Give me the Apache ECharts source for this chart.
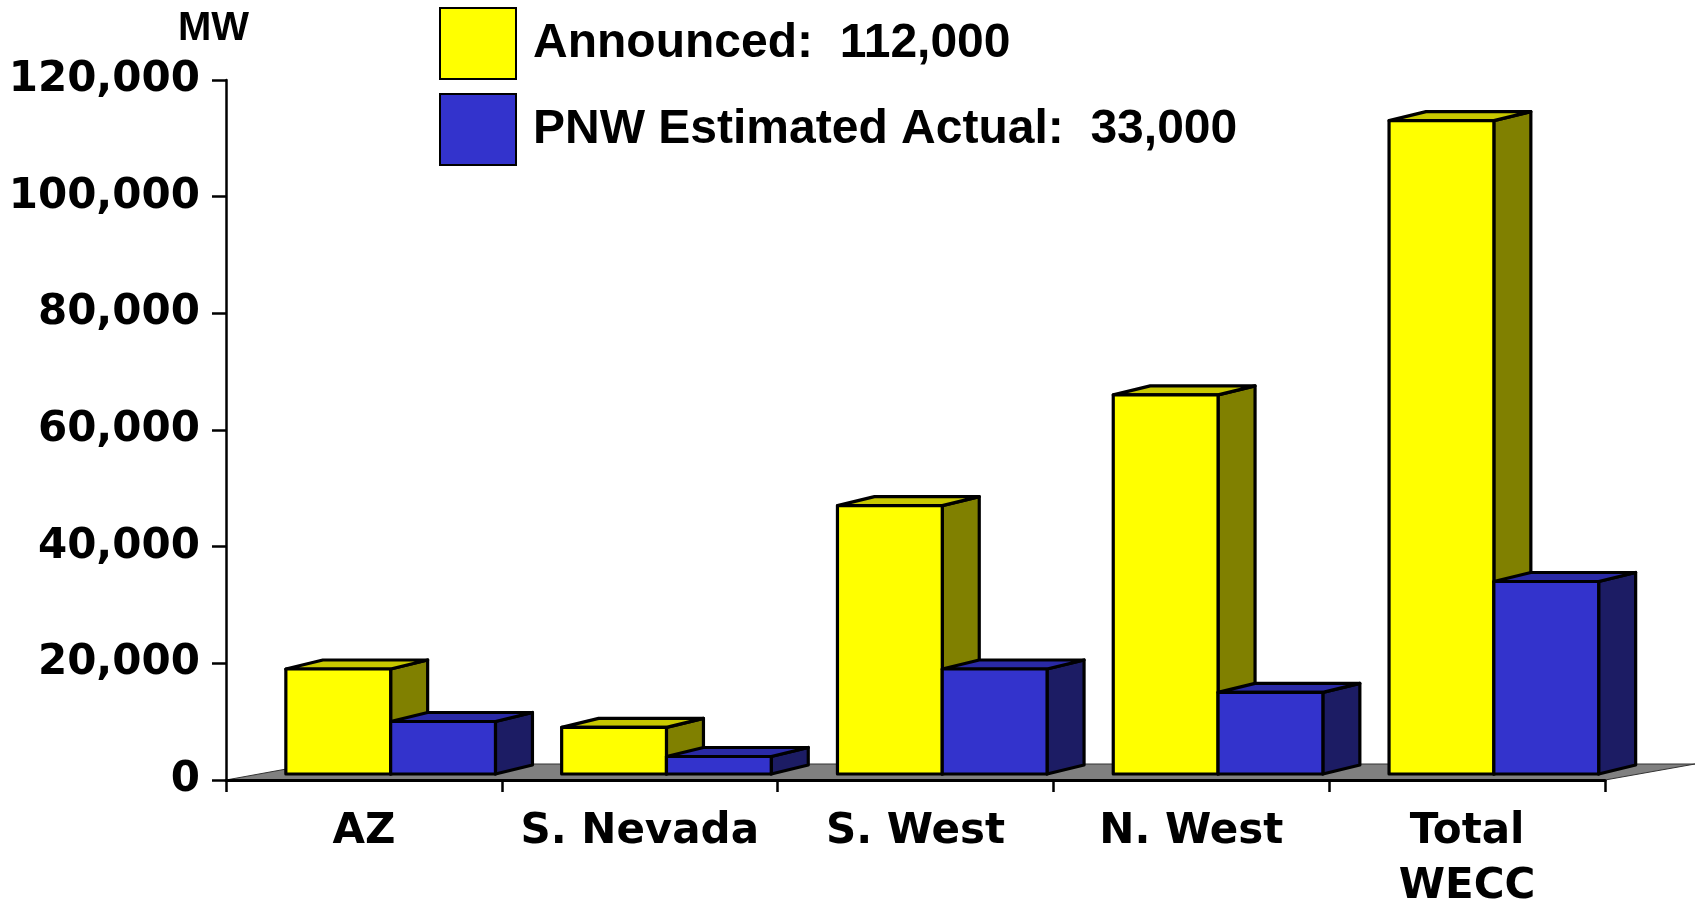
<!DOCTYPE html>
<html><head><meta charset="utf-8">
<script src="https://cdn.jsdelivr.net/npm/echarts@6/dist/echarts.min.js"></script>
<style>html,body{margin:0;padding:0;background:#fff}#c{width:1696px;height:901px}</style>
</head><body><div id="c"></div>
<script>
const categories = ['AZ', 'S. Nevada', 'S. West', 'N. West', 'Total\nWECC'];
const announced = [18000, 8000, 46000, 65000, 112000];
const pnwActual = [9000, 3000, 18000, 14000, 33000];
const seriesNames = ['Announced:  112,000', 'PNW Estimated Actual:  33,000'];
const yMin = 0, yMax = 120000, yInterval = 20000;
const unitLabel = 'MW';

const COLORS = [
  { front: '#FFFF00', top: '#C8C800', side: '#808000' },
  { front: '#3333CC', top: '#2A2AA6', side: '#1C1C64' }
];

function makeRender(which) {
  return function (params, api) {
    const ci = api.value(0), v = api.value(1);
    const b = api.coord([ci, 0]);
    const t = api.coord([ci, v]);
    const band = api.size([1, 0])[0];
    const bw = band * 0.38;
    const fx = band * 0.097, fy = -6;
    const dx = 37, dy = -9;
    const x0 = which === 0 ? b[0] + fx - bw : b[0] + fx;
    const x1 = x0 + bw;
    const yb = b[1] + fy, yt = t[1] + fy;
    const c = COLORS[which];
    const ls = { stroke: '#000', lineWidth: 3.2, lineJoin: 'round' };
    return {
      type: 'group', children: [
        { type: 'polygon', shape: { points: [[x1, yb], [x1, yt], [x1 + dx, yt + dy], [x1 + dx, yb + dy]] }, style: Object.assign({ fill: c.side }, ls) },
        { type: 'polygon', shape: { points: [[x0, yt], [x1, yt], [x1 + dx, yt + dy], [x0 + dx, yt + dy]] }, style: Object.assign({ fill: c.top }, ls) },
        { type: 'rect', shape: { x: x0, y: yt, width: bw, height: yb - yt }, style: Object.assign({ fill: c.front }, ls) }
      ]
    };
  };
}

function renderFloor(params, api) {
  const cs = params.coordSys;
  const y = api.coord([0, 0])[1];
  const x = cs.x, w = cs.width;
  return {
    type: 'polygon',
    shape: { points: [[x, y], [x + w, y], [x + w + 90, y - 16], [x + 88, y - 16]] },
    style: { fill: '#808080', stroke: '#333', lineWidth: 1 }
  };
}

const chart = echarts.init(document.getElementById('c'), null, { renderer: 'canvas' });
const labelFont = { fontFamily: 'DejaVu Sans', fontWeight: 'bold', fontSize: 42, color: '#000' };
chart.setOption({
  animation: false,
  backgroundColor: '#fff',
  title: {
    text: unitLabel, left: 178, top: 9, padding: 0,
    textStyle: { fontFamily: 'Liberation Sans', fontWeight: 'bold', fontSize: 40, color: '#000' }
  },
  legend: {
    orient: 'vertical', left: 439, top: 7, padding: 0,
    itemWidth: 76, itemHeight: 71, itemGap: 13,
    selectedMode: false,
    textStyle: { fontFamily: 'Liberation Sans', fontWeight: 'bold', fontSize: 48, color: '#000', padding: [3, 0, 0, 12] },
    data: [
      { name: seriesNames[0], icon: 'rect', itemStyle: { color: COLORS[0].front, borderColor: '#000', borderWidth: 2 } },
      { name: seriesNames[1], icon: 'rect', itemStyle: { color: COLORS[1].front, borderColor: '#000', borderWidth: 2 } }
    ]
  },
  grid: { left: 226, right: 91, top: 80, bottom: 121, containLabel: false, outerBoundsMode: 'none' },
  xAxis: {
    type: 'category', data: categories, boundaryGap: true, z: 10,
    axisLine: { lineStyle: { color: '#000', width: 3 } },
    axisTick: { show: true, alignWithLabel: false, length: 12, lineStyle: { color: '#000', width: 2.5 } },
    axisLabel: Object.assign({ margin: 25, lineHeight: 55, interval: 0 }, labelFont)
  },
  yAxis: {
    type: 'value', min: yMin, max: yMax, interval: yInterval, z: 10,
    splitLine: { show: false },
    axisLine: { show: true, lineStyle: { color: '#000', width: 2.5 } },
    axisTick: { show: true, length: 14, lineStyle: { color: '#000', width: 2.5 } },
    axisLabel: Object.assign({ margin: 26, formatter: v => v.toLocaleString('en-US') }, labelFont)
  },
  series: [
    { name: 'floor', type: 'custom', renderItem: renderFloor, data: [[0, 0]], silent: true, z: 1 },
    {
      name: seriesNames[0], type: 'custom', renderItem: makeRender(0), z: 2,
      itemStyle: { color: COLORS[0].front },
      encode: { x: 0, y: 1 },
      data: announced.map((v, i) => [i, v])
    },
    {
      name: seriesNames[1], type: 'custom', renderItem: makeRender(1), z: 3,
      itemStyle: { color: COLORS[1].front },
      encode: { x: 0, y: 1 },
      data: pnwActual.map((v, i) => [i, v])
    }
  ]
});
</script></body></html>
